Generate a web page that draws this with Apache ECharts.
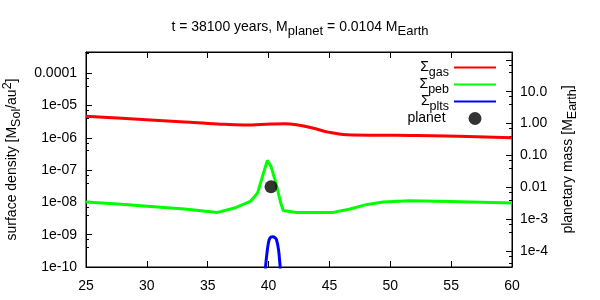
<!DOCTYPE html>
<html>
<head>
<meta charset="utf-8">
<script src="https://cdn.jsdelivr.net/npm/echarts@6/dist/echarts.min.js"></script>
<style>html,body{margin:0;padding:0;background:#fff}#c{width:600px;height:300px}</style>
</head>
<body>
<div id="c"></div>
<script>
// x positions (radius, au)
const xTicks = [25, 30, 35, 40, 45, 50, 55, 60];
// gas surface density
const gasX = [25, 27.6, 30.3, 33.1, 35.8, 38.0, 40.2, 41.3, 42.4, 43.6, 45.0, 46.4, 50.5, 54.6, 60];
const gasY = [4.67e-6, 4.10e-6, 3.56e-6, 3.08e-6, 2.67e-6, 2.49e-6, 2.67e-6, 2.73e-6, 2.49e-6, 2.01e-6, 1.47e-6, 1.25e-6, 1.19e-6, 1.14e-6, 1.0e-6];
// pebble surface density
const pebX = [25, 27.6, 30.3, 33.1, 35.8, 37.2, 38.5, 39.1, 39.5, 39.9, 40.2, 40.6, 41.0, 41.2, 42.3, 45.3, 46.7, 48.0, 49.4, 51.6, 54.9, 60];
const pebY = [1.03e-8, 8.9e-9, 7.5e-9, 6.25e-9, 4.9e-9, 6.7e-9, 1.07e-8, 1.95e-8, 6.4e-8, 2.0e-7, 1.30e-7, 4.0e-8, 9.6e-9, 5.65e-9, 4.9e-9, 4.9e-9, 6.25e-9, 8.5e-9, 1.03e-8, 1.13e-8, 1.07e-8, 9.6e-9];
// planetesimal surface density
const pltsX = [39.6, 39.75, 39.9, 40.05, 40.2, 40.35, 40.5, 40.65, 40.82, 40.95, 41.1];
const pltsY = [2e-11, 1e-10, 3.4e-10, 7e-10, 8.5e-10, 8.7e-10, 8.2e-10, 7e-10, 3.4e-10, 1e-10, 2e-11];
// planet
const planetX = [40.2];
const planetM = [0.0104];
// tick labels
const leftLabels = {"-4": "0.0001", "-5": "1e-05", "-6": "1e-06", "-7": "1e-07", "-8": "1e-08", "-9": "1e-09", "-10": "1e-10"};
const rightLabels = {"1": "10.0", "0": "1.00", "-1": "0.10", "-2": "0.01", "-3": "1e-3", "-4": "1e-4"};

function zip(xs, ys) { return xs.map((x, i) => [x, ys[i]]); }
function decade(v) { const l = Math.log10(v); const e = Math.round(l); return Math.abs(l - e) < 1e-6 ? e : null; }

const FONT = 'Liberation Sans';
function mkRich(lh, shift, subSize) {
  return {
    m: { fontSize: 14, fontFamily: FONT, color: '#000', lineHeight: lh },
    s: { fontSize: subSize, fontFamily: FONT, color: '#000', height: 1, padding: [shift * 2, 0, 0, 0], lineHeight: lh },
    p: { fontSize: subSize, fontFamily: FONT, color: '#000', height: 1, padding: [0, 0, shift * 2, 0], lineHeight: lh }
  };
}

const chart = echarts.init(document.getElementById('c'), null, { renderer: 'canvas' });
const axisLine = { show: true, lineStyle: { color: '#000', width: 1 } };
const hidden = { opacity: 0 };
chart.setOption({
  animation: false,
  backgroundColor: '#fff',
  title: {
    text: '{m|t = 38100 years, M}{s|planet}{m| = 0.0104 M}{s|Earth}',
    left: 'center', top: 15,
    textStyle: { fontSize: 14, fontWeight: 'normal', fontFamily: FONT, color: '#000', lineHeight: 14, rich: mkRich(14, 4, 13) }
  },
  grid: { left: 86, right: 88, top: 52, bottom: 33, show: true, borderColor: '#000', borderWidth: 1,
    containLabel: false, outerBoundsMode: 'none' },
  legend: {
    orient: 'vertical', right: 98, top: 55.5, align: 'right', padding: 5,
    itemWidth: 42, itemHeight: 13, itemGap: -2,
    textStyle: { fontSize: 14, fontFamily: FONT, color: '#000', lineHeight: 13, rich: mkRich(13, 5.5, 12.5) },
    formatter: function (name) {
      if (name === 'planet') return '{m|planet}{s| }';
      return '{m|Σ}{s|' + name.slice(1) + '}';
    },
    data: [
      { name: 'Σgas', itemStyle: hidden },
      { name: 'Σpeb', itemStyle: hidden },
      { name: 'Σplts', itemStyle: hidden },
      { name: 'planet' }
    ]
  },
  xAxis: [{
    type: 'value', min: xTicks[0], max: xTicks[xTicks.length - 1], interval: 5,
    axisLine: axisLine, splitLine: { show: false },
    axisTick: { inside: true, length: 6, lineStyle: { color: '#000' } },
    axisLabel: { fontSize: 14, fontFamily: FONT, color: '#000', margin: 12 }
  }, {
    type: 'value', position: 'top', min: xTicks[0], max: xTicks[xTicks.length - 1], interval: 5,
    axisLine: axisLine, splitLine: { show: false },
    axisTick: { inside: true, length: 6, lineStyle: { color: '#000' } },
    axisLabel: { show: false }
  }],
  yAxis: [{
    type: 'log', position: 'left', min: 1e-10, max: Math.pow(10, -3.344),
    axisLine: axisLine, splitLine: { show: false },
    axisTick: { inside: true, length: 6, lineStyle: { color: '#000' } },
    minorTick: { show: true, splitNumber: 3, length: 3, lineStyle: { color: '#000' } },
    axisLabel: { fontSize: 14, fontFamily: FONT, color: '#000', margin: 9,
      formatter: v => { const e = decade(v); return e === null ? '' : (leftLabels[e] || ''); } },
    name: '{m|surface density [M}{s|Sol}{m|/au}{p|2}{m|]}',
    nameLocation: 'middle', nameGap: 57, nameRotate: 90,
    nameTextStyle: { fontSize: 14, fontFamily: FONT, color: '#000', lineHeight: 14, rich: mkRich(14, 4.5, 12.5) }
  }, {
    type: 'log', position: 'right', min: Math.pow(10, -4.502), max: Math.pow(10, 2.246),
    axisLine: axisLine, splitLine: { show: false },
    axisTick: { inside: true, length: 6, lineStyle: { color: '#000' } },
    minorTick: { show: true, splitNumber: 3, length: 3, lineStyle: { color: '#000' } },
    axisLabel: { fontSize: 14, fontFamily: FONT, color: '#000', margin: 8,
      formatter: v => { const e = decade(v); return e === null ? '' : (rightLabels[e] || ''); } },
    name: '{m|planetary mass [M}{s|Earth}{m|]}',
    nameLocation: 'middle', nameGap: 49, nameRotate: 90,
    nameTextStyle: { fontSize: 14, fontFamily: FONT, color: '#000', lineHeight: 14, rich: mkRich(14, 4.5, 12.5) }
  }],
  series: [{
    name: 'Σgas', type: 'line', xAxisIndex: 0, yAxisIndex: 0, data: zip(gasX, gasY),
    showSymbol: false, symbol: 'none', smooth: 0.4, clip: true,
    lineStyle: { color: '#ff0000', width: 3 }, itemStyle: { color: '#ff0000' }
  }, {
    name: 'Σpeb', type: 'line', xAxisIndex: 0, yAxisIndex: 0, data: zip(pebX, pebY),
    showSymbol: false, symbol: 'none', smooth: false, clip: true,
    lineStyle: { color: '#00ff00', width: 3 }, itemStyle: { color: '#00ff00' }
  }, {
    name: 'Σplts', type: 'line', xAxisIndex: 0, yAxisIndex: 0, data: zip(pltsX, pltsY),
    showSymbol: false, symbol: 'none', smooth: 0.4, clip: true,
    lineStyle: { color: '#0000ff', width: 3 }, itemStyle: { color: '#0000ff' }
  }, {
    name: 'planet', type: 'scatter', xAxisIndex: 0, yAxisIndex: 1, data: zip(planetX, planetM),
    symbol: 'circle', symbolSize: 13, itemStyle: { color: '#000' }, z: 5
  }]
});
</script>
</body>
</html>
